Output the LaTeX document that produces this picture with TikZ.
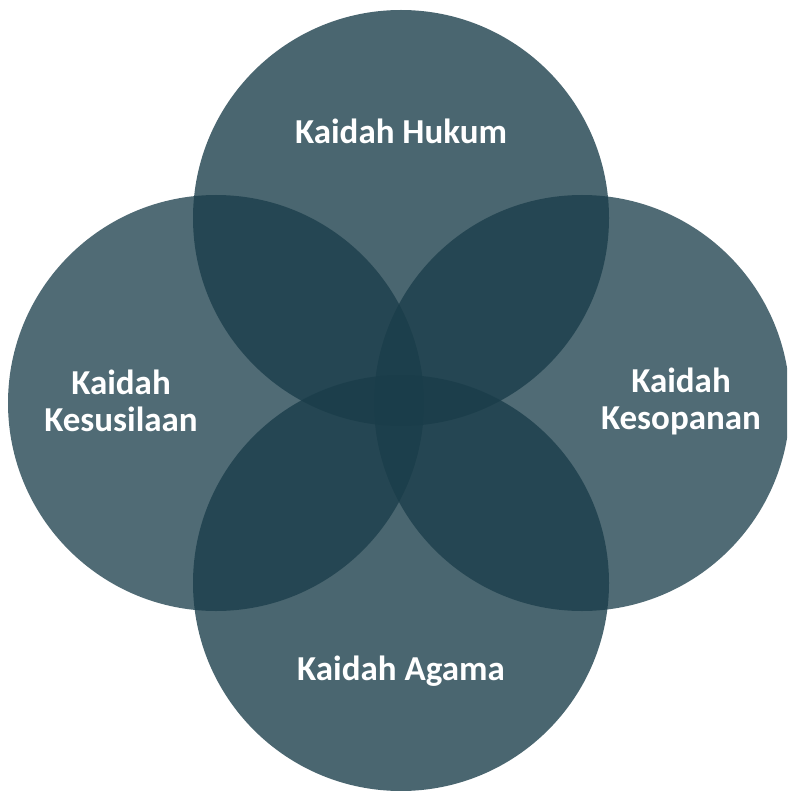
\documentclass[tikz,border=0pt]{standalone}
\usepackage{fontspec}
\setmainfont{Carlito}
\begin{document}
\begin{tikzpicture}[x=1pt,y=-1pt,
  circ/.style={fill=base,draw=none},
  lbl/.style={text=white,font=\fontsize{35}{37}\selectfont\bfseries,align=center,inner sep=0pt}]
\definecolor{base}{RGB}{26,61,74}
\useasboundingbox (0,0) rectangle (787,791);
\fill[white] (0,0) rectangle (787,791);
\begin{scope}
\clip (0,0) rectangle (787,791);
\fill[circ,fill opacity=0.76] (216,403) circle[radius=208];
\fill[circ,fill opacity=0.76] (582,403) circle[radius=208];
\fill[circ,fill opacity=0.79] (401,218) circle[radius=208];
\fill[circ,fill opacity=0.79] (401,583) circle[radius=208];
\end{scope}
\node[lbl] (hukum) at (401,131) {Kaidah Hukum};
\node[lbl] (susila) at (121,401) {Kaidah\\Kesusilaan};
\node[lbl] (sopan) at (681,401) {Kaidah\\Kesopanan};
\node[lbl] (agama) at (401,671) {Kaidah Agama};
\end{tikzpicture}
\end{document}
